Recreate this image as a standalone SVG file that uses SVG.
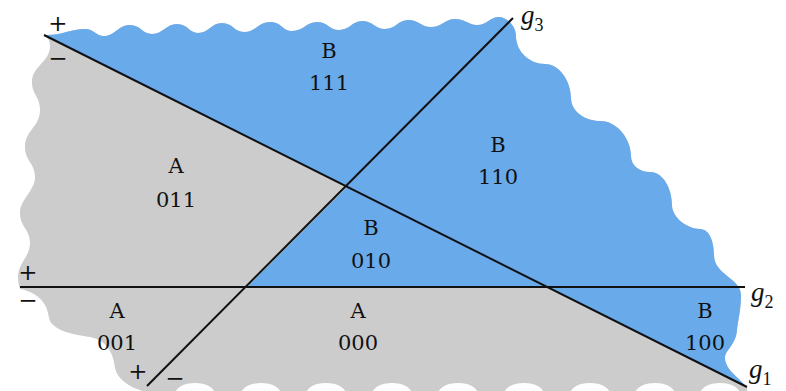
<svg xmlns="http://www.w3.org/2000/svg" width="786" height="391" viewBox="0 0 786 391">
<style>
.lbl{font-family:"DejaVu Serif","Liberation Serif",serif;font-size:21px;fill:#111;text-anchor:middle}
.sgn{font-family:"DejaVu Serif","Liberation Serif",serif;font-size:23px;fill:#111;text-anchor:middle}
.g{font-family:"Liberation Serif",serif;font-style:italic;font-size:27px;fill:#111}
.sub{font-family:"Liberation Serif",serif;font-style:normal;font-size:18px;fill:#111}
.ln{stroke:#111;stroke-width:2;fill:none}
</style>
<defs>
<path id="outer" d="M44,35 C60,36 70,29 85,29 C94,29 96,36 104,36 C115,36 118,25 130,25 C141,25 142,34 152,34 C163,34 166,24 177,24 C188,24 189,33 198,33 C209,33 211,23 222,23 C233,23 234,32 244,32 C256,32 258,22 270,22 C282,22 282,31 292,31 C304,31 306,22 317,22 C328,22 329,30 339,30 C350,30 352,21 362,21 C373,21 375,29 385,29 C396,29 398,20 408,20 C419,20 421,27 431,27 C442,27 445,19 455,19 C466,19 468,25 477,25 C487,25 490,17 499,17 C506,17 516,25 516,36 C516,52 530,64 545,64 C560,64 571,82 571,98 C571,112 586,121 600,121 C618,121 631,140 631,156 C631,166 640,172 650,172 C664,172 672,190 672,205 C672,218 688,229 700,229 C710,229 714,243 714,255 C714,275 741,278 741,295 C741,310 738,320 737,330 C736,345 725,350 725,358 C725,370 740,378 747,388 L747,394 L740,394 A20 11 0 0 0 700,394 L675,394 A20 11 0 0 0 635,394 L610,394 A20 11 0 0 0 570,394 L544,394 A20 11 0 0 0 504,394 L478,394 A20 11 0 0 0 438,394 L412,394 A20 11 0 0 0 372,394 L346,394 A20 11 0 0 0 306,394 L281,394 A20 11 0 0 0 241,394 L215,394 A20 11 0 0 0 175,394 L150,393 C135,390 118,382 115,368 C113,350 105,340 90,337 C70,334 52,330 49,318 C47,300 35,292 20,289 C19,285 18,282 18,277 C18,263 30,257 30,243 C30,229 20,227 20,213 C20,199 35,191 35,177 C35,163 25,161 25,147 C25,130 40,127 40,110 C40,96 32,95 32,82 C32,66 50,62 50,46 C50,40 47,37 44,35 Z"/>
<clipPath id="clip"><use href="#outer"/></clipPath>
</defs>
<g id="regions">
<use href="#outer" fill="#cccccc"/>
<path clip-path="url(#clip)" fill="#69aaeb" d="M-156,-64.5 L-156,-200 L900,-200 L900,463.5 L547,287 L247,287 L347,187 Z"/>
</g>
<g id="connectors">
<line id="g1" class="ln" x1="44" y1="35" x2="747" y2="387"/>
<line id="g3" class="ln" x1="147" y1="386" x2="513" y2="18"/>
<line id="g2" class="ln" x1="20" y1="287" x2="745" y2="287" stroke-width="3.5"/>
</g>
<g id="region-labels">
<g id="r111"><text class="lbl" x="329" y="58">B</text><text class="lbl" x="329" y="90">111</text></g>
<g id="r011"><text class="lbl" x="176" y="173">A</text><text class="lbl" x="176" y="207">011</text></g>
<g id="r110"><text class="lbl" x="498" y="152">B</text><text class="lbl" x="498" y="184">110</text></g>
<g id="r010"><text class="lbl" x="371" y="235">B</text><text class="lbl" x="371" y="268">010</text></g>
<g id="r001"><text class="lbl" x="117" y="318">A</text><text class="lbl" x="117" y="350">001</text></g>
<g id="r000"><text class="lbl" x="358" y="318">A</text><text class="lbl" x="358" y="350">000</text></g>
<g id="r100"><text class="lbl" x="705" y="318">B</text><text class="lbl" x="705" y="350">100</text></g>
</g>
<g id="signs">
<text class="sgn" x="58" y="31">+</text>
<text class="sgn" x="58" y="66">−</text>
<text class="sgn" x="28" y="280">+</text>
<text class="sgn" x="28" y="308">−</text>
<text class="sgn" x="138" y="379">+</text>
<text class="sgn" x="175" y="386">−</text>
</g>
<g id="line-labels">
<text class="g" x="521" y="24">g<tspan class="sub" dy="7">3</tspan></text>
<text class="g" x="751" y="301">g<tspan class="sub" dy="7">2</tspan></text>
<text class="g" x="749" y="378">g<tspan class="sub" dy="7">1</tspan></text>
</g>
</svg>
